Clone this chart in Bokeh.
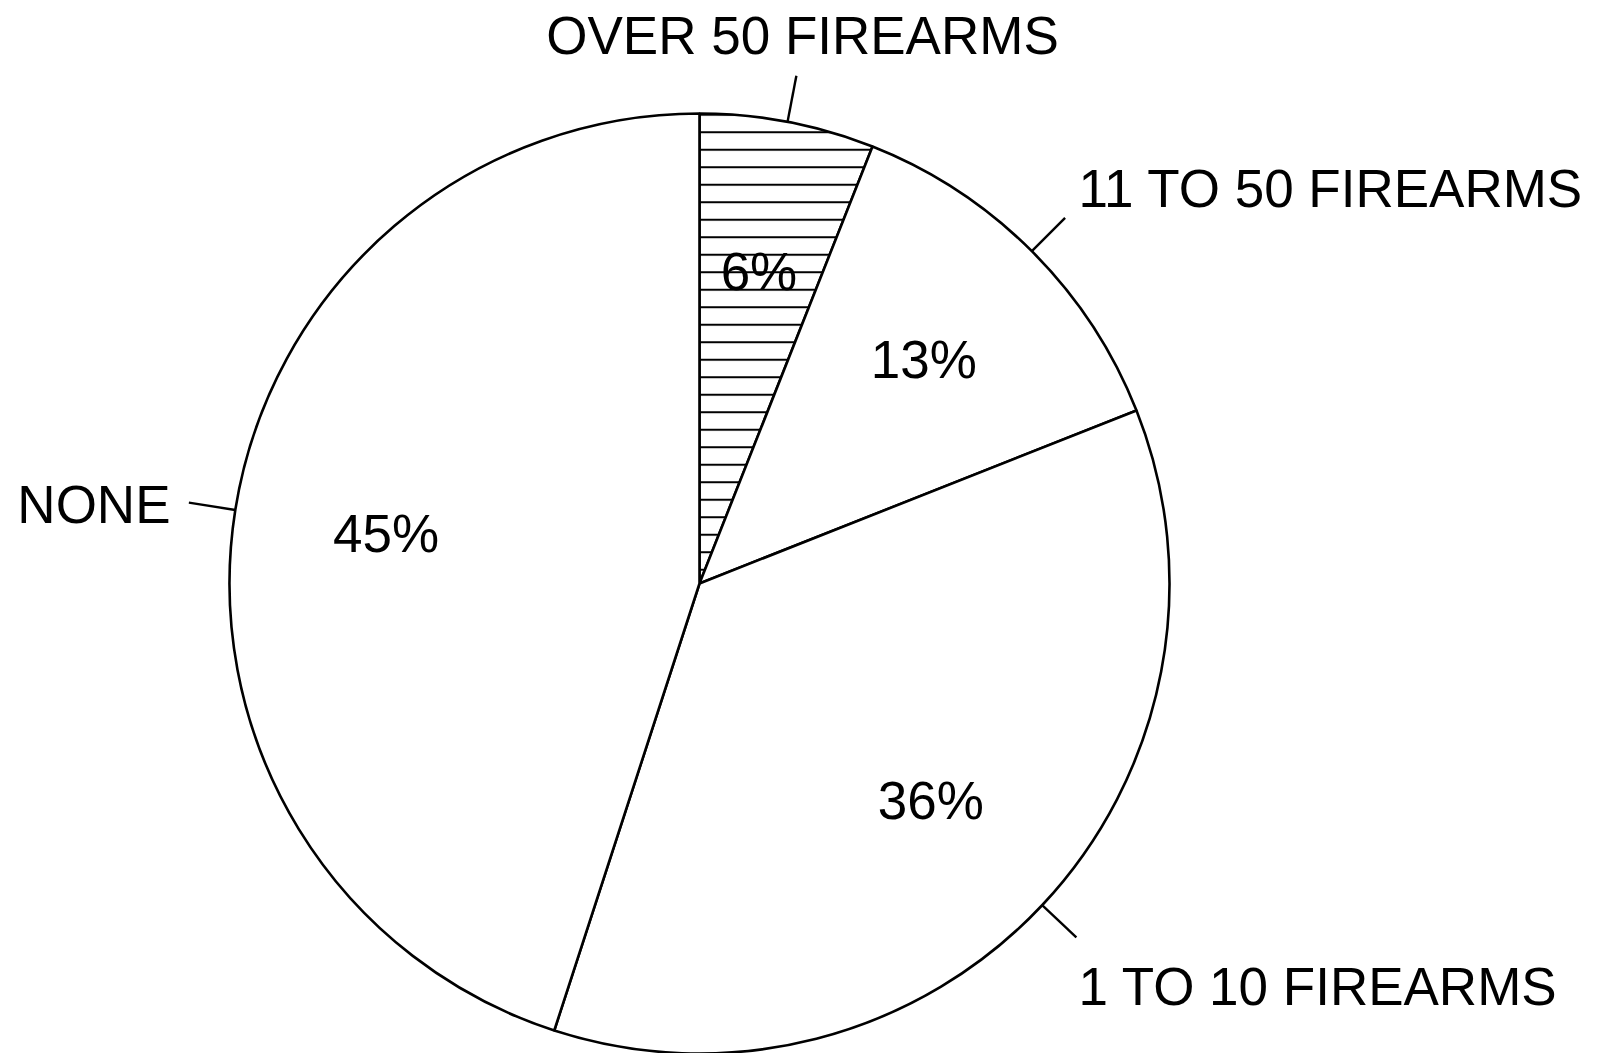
import numpy as np
from bokeh.plotting import figure
from bokeh.models import Range1d
from bokeh.core.properties import value
from bokeh.embed import file_html
from bokeh.resources import INLINE

# ---- data ----
categories = ["OVER 50 FIREARMS", "11 TO 50 FIREARMS", "1 TO 10 FIREARMS", "NONE"]
percents = [6, 13, 36, 45]
pct_labels = ["6%", "13%", "36%", "45%"]
hatched = [True, False, False, False]

# ---- layout ----
W, H = 1583, 1053
def X(px):
    return px - 8
def Y(py):
    return 1053 - py

CX, CY, R = X(707), Y(591), 470.0
FONT = value("Liberation Sans")
FS = "53px"

p = figure(width=W, height=H, x_range=Range1d(0, W), y_range=Range1d(Y(H + 8), Y(8)),
           output_backend="svg", toolbar_location=None, min_border=0)
p.axis.visible = False
p.grid.visible = False
p.outline_line_color = None
p.background_fill_color = "white"
p.border_fill_color = "white"

frac = np.array(percents, dtype=float) / 100.0
cum_after = np.cumsum(frac)
cum_before = cum_after - frac
start = np.pi / 2 - 2 * np.pi * cum_after
end = np.pi / 2 - 2 * np.pi * cum_before
mid = (start + end) / 2

for i in range(len(categories)):
    kw = {}
    if hatched[i]:
        kw = dict(hatch_pattern="horizontal_line", hatch_scale=17.5, hatch_weight=2,
                  hatch_color="black")
    p.wedge(x=CX, y=CY, radius=R, start_angle=start[i], end_angle=end[i],
            fill_color="white", line_color="black", line_width=2.6, **kw)

# percent labels inside
rl = 0.675 * R
p.text(x=list(CX + rl * np.cos(mid)), y=list(CY + rl * np.sin(mid)), text=pct_labels,
       text_font=FONT, text_font_size=FS, text_align="center", text_baseline="middle",
       text_color="black")

# leader lines (radial, from the rim outwards)
r_in, r_out = R, R + 47
xs = [[CX + r_in * np.cos(a), CX + r_out * np.cos(a)] for a in mid]
ys = [[CY + r_in * np.sin(a), CY + r_out * np.sin(a)] for a in mid]
p.multi_line(xs=xs, ys=ys, line_color="black", line_width=2.4)

# outer category labels
lab_x = [X(810), X(1086), X(1086), X(178)]
lab_y = [Y(43), Y(196), Y(994), Y(512)]
aligns = ["center", "left", "left", "right"]
for i in range(len(categories)):
    p.text(x=[lab_x[i]], y=[lab_y[i]], text=[categories[i]], text_font=FONT,
           text_font_size=FS, text_align=aligns[i], text_baseline="alphabetic",
           text_color="black")

open("out.html", "w").write(file_html(p, INLINE))
